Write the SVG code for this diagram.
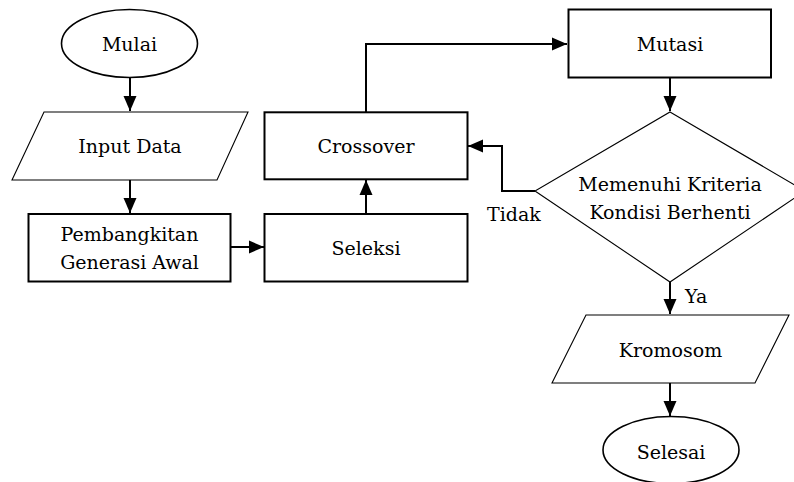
<svg xmlns="http://www.w3.org/2000/svg" width="794" height="482" viewBox="0 0 794 482">
<style>
text{font-family:'DejaVu Serif','Liberation Serif',serif;font-size:19px;fill:#000;text-anchor:middle}
.box{fill:#fff;stroke:#000;stroke-width:2}
.thin{fill:#fff;stroke:#000;stroke-width:1.1}
.ell{fill:#fff;stroke:#000;stroke-width:1.6}
.con{fill:none;stroke:#000;stroke-width:2}
.lbl{text-anchor:start}
</style>
<defs>
<marker id="ah" markerUnits="userSpaceOnUse" markerWidth="16" markerHeight="14" refX="15" refY="7" orient="auto">
<path d="M0,0.5 L15,7 L0,13.5 z" fill="#000"/>
</marker>
</defs>
<g id="connectors">
<path class="con" d="M130,78 V111" marker-end="url(#ah)"/>
<path class="con" d="M130,180 V213" marker-end="url(#ah)"/>
<path class="con" d="M231,247 H264" marker-end="url(#ah)"/>
<path class="con" d="M366,214 V180" marker-end="url(#ah)"/>
<path class="con" d="M366,112 V44 H567" marker-end="url(#ah)"/>
<path class="con" d="M670,78 V111" marker-end="url(#ah)"/>
<path class="con" d="M535,191 H502 V146 H468" marker-end="url(#ah)"/>
<path class="con" d="M670,282 V314" marker-end="url(#ah)"/>
<path class="con" d="M670,383 V416" marker-end="url(#ah)"/>
<text class="lbl" x="487" y="221">Tidak</text>
<text class="lbl" x="685" y="303">Ya</text>
</g>
<g id="mulai">
<ellipse class="ell" cx="129.5" cy="43.5" rx="68" ry="34"/>
<text x="129.5" y="51">Mulai</text>
</g>
<g id="input-data">
<polygon class="thin" points="44,112 248,112 217,180 12,180"/>
<text x="130" y="153">Input Data</text>
</g>
<g id="pembangkitan">
<rect class="box" x="28.5" y="214" width="202" height="67.5"/>
<text x="129.5" y="241">Pembangkitan</text>
<text x="129.5" y="269">Generasi Awal</text>
</g>
<g id="seleksi">
<rect class="box" x="264.5" y="214" width="203" height="67.5"/>
<text x="366" y="255">Seleksi</text>
</g>
<g id="crossover">
<rect class="box" x="264.5" y="112.3" width="203" height="67"/>
<text x="366" y="153">Crossover</text>
</g>
<g id="mutasi">
<rect class="box" x="568.5" y="9.5" width="202.5" height="68"/>
<text x="670" y="51">Mutasi</text>
</g>
<g id="kondisi">
<polygon class="thin" points="670,112 805,191 670,282 535,191"/>
<text x="670" y="191">Memenuhi Kriteria</text>
<text x="670" y="218.5">Kondisi Berhenti</text>
</g>
<g id="kromosom">
<polygon class="thin" points="586,315 789,315 755,383 552,383"/>
<text x="670.5" y="357">Kromosom</text>
</g>
<g id="selesai">
<ellipse class="ell" cx="671" cy="450" rx="68" ry="33.5"/>
<text x="671" y="459">Selesai</text>
</g>
</svg>
